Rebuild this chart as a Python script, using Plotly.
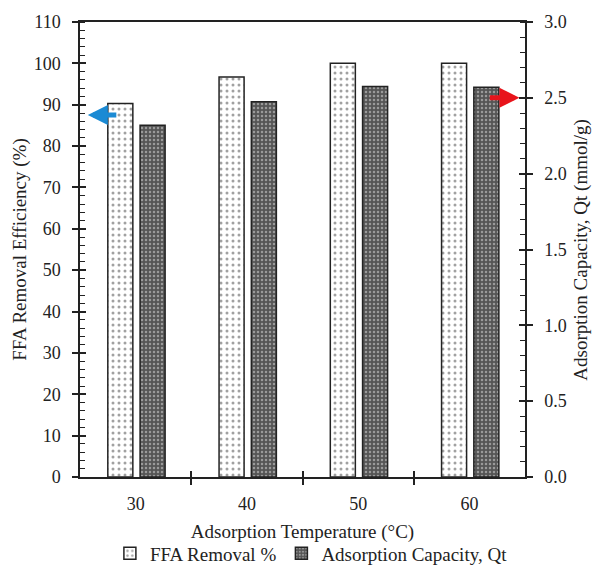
import plotly.graph_objects as go

categories = ["30", "40", "50", "60"]
ffa_removal = [90.3, 96.7, 100.0, 100.0]
qt_capacity = [2.32, 2.475, 2.575, 2.57]

FONT = "Liberation Serif"
xpos = list(range(len(categories)))

fig = go.Figure()
fig.add_trace(go.Bar(
    x=xpos, y=ffa_removal, name="FFA Removal %", yaxis="y", xaxis="x",
    width=0.225, offset=-0.25,
    marker=dict(color="white", line=dict(color="#222", width=1.5),
                pattern=dict(shape=".", fgcolor="#444", bgcolor="white", size=6, solidity=0.2)),
))
fig.add_trace(go.Bar(
    x=xpos, y=qt_capacity, name="Adsorption Capacity, Qt", yaxis="y2", xaxis="x",
    width=0.225, offset=0.04,
    marker=dict(color="#666", line=dict(color="#222", width=1.5),
                pattern=dict(shape=".", fgcolor="#ddd", bgcolor="#555", size=4, solidity=0.3)),
))
# invisible helper traces for the inner halves of crossing ticks
fig.add_trace(go.Scatter(x=[0], y=[0], xaxis="x2", yaxis="y3", showlegend=False,
                         mode="markers", marker=dict(opacity=0), hoverinfo="skip"))
fig.add_trace(go.Scatter(x=[0], y=[0], xaxis="x2", yaxis="y4", showlegend=False,
                         mode="markers", marker=dict(opacity=0), hoverinfo="skip"))

tickfont = dict(family=FONT, size=18, color="#222")
titlefont = dict(family=FONT, size=19, color="#222")

fig.update_layout(
    width=594, height=565,
    margin=dict(l=80, r=69, t=22, b=88, autoexpand=False),
    paper_bgcolor="white", plot_bgcolor="white",
    barmode="overlay",
    showlegend=True,
    legend=dict(orientation="h", x=0.52, xanchor="center", xref="paper",
                y=-0.168, yanchor="middle",
                font=dict(family=FONT, size=19, color="#222"), itemwidth=30,
                traceorder="normal", tracegroupgap=0),
    xaxis=dict(
        range=[-0.5, 3.5], tickmode="array", tickvals=xpos, ticktext=categories,
        ticks="", tickfont=tickfont, showline=True, linecolor="#222", linewidth=1.5,
        mirror=True, showgrid=False, zeroline=False, automargin=False,
        ticklabelstandoff=10,
        title=dict(text="Adsorption Temperature (°C)", font=titlefont, standoff=11),
        minor=dict(tickmode="array", tickvals=[0.5, 1.5, 2.5], ticks="outside",
                   ticklen=6, tickwidth=1.5, tickcolor="#222"),
    ),
    xaxis2=dict(
        range=[-0.5, 3.5], overlaying="x", anchor="y", side="bottom",
        tickmode="array", tickvals=[0.5, 1.5, 2.5], ticks="inside", ticklen=6,
        tickwidth=1.5, tickcolor="#222", showticklabels=False, showgrid=False,
        zeroline=False, showline=False, automargin=False,
    ),
    yaxis=dict(
        range=[0, 110], dtick=10, ticks="outside", ticklen=6, tickwidth=1.5,
        tickcolor="#222", tickfont=tickfont, showline=True, linecolor="#222",
        linewidth=1.5, showgrid=False, zeroline=False, automargin=False,
        ticklabelstandoff=8,
        title=dict(text="FFA Removal Efficiency (%)", font=titlefont, standoff=2),
        minor=dict(dtick=2, ticks="inside", ticklen=5, tickwidth=1, tickcolor="#222"),
    ),
    yaxis3=dict(
        range=[0, 110], dtick=10, overlaying="y", side="left", anchor="x",
        ticks="inside", ticklen=6, tickwidth=1.5, tickcolor="#222",
        showticklabels=False, showgrid=False, zeroline=False, showline=False,
        automargin=False,
    ),
    yaxis2=dict(
        range=[0, 3.0], dtick=0.5, tickformat=".1f", overlaying="y", side="right",
        anchor="x", ticks="outside", ticklen=6, tickwidth=1.5, tickcolor="#222",
        tickfont=tickfont, showline=True, linecolor="#222", linewidth=1.5,
        showgrid=False, zeroline=False, automargin=False, ticklabelstandoff=8,
        minor=dict(dtick=0.1, ticks="inside", ticklen=5, tickwidth=1, tickcolor="#222"),
    ),
    yaxis4=dict(
        range=[0, 3.0], dtick=0.5, overlaying="y", side="right", anchor="x",
        ticks="inside", ticklen=6, tickwidth=1.5, tickcolor="#222",
        showticklabels=False, showgrid=False, zeroline=False, showline=False,
        automargin=False,
    ),
)

# right axis title (as annotation for precise placement)
fig.add_annotation(text="Adsorption Capacity, Qt (mmol/g)", xref="paper", yref="paper",
                   x=1.124, y=0.5, xanchor="center", yanchor="middle", textangle=-90,
                   showarrow=False, font=titlefont)

# direction arrows
fig.add_annotation(x=-0.43, y=87.5, ax=-0.16, ay=87.5, xref="x", yref="y",
                   axref="x", ayref="y", showarrow=True, arrowhead=2, arrowsize=0.8,
                   arrowwidth=5, arrowcolor="#1a8ad4", text="")
fig.add_annotation(x=3.45, y=2.5, ax=3.17, ay=2.5, xref="x", yref="y2",
                   axref="x", ayref="y2", showarrow=True, arrowhead=2, arrowsize=0.8,
                   arrowwidth=5, arrowcolor="#e8141b", text="")

fig.write_html("out.html", config={"displayModeBar": False},
               post_script="document.body.style.margin='0';")
